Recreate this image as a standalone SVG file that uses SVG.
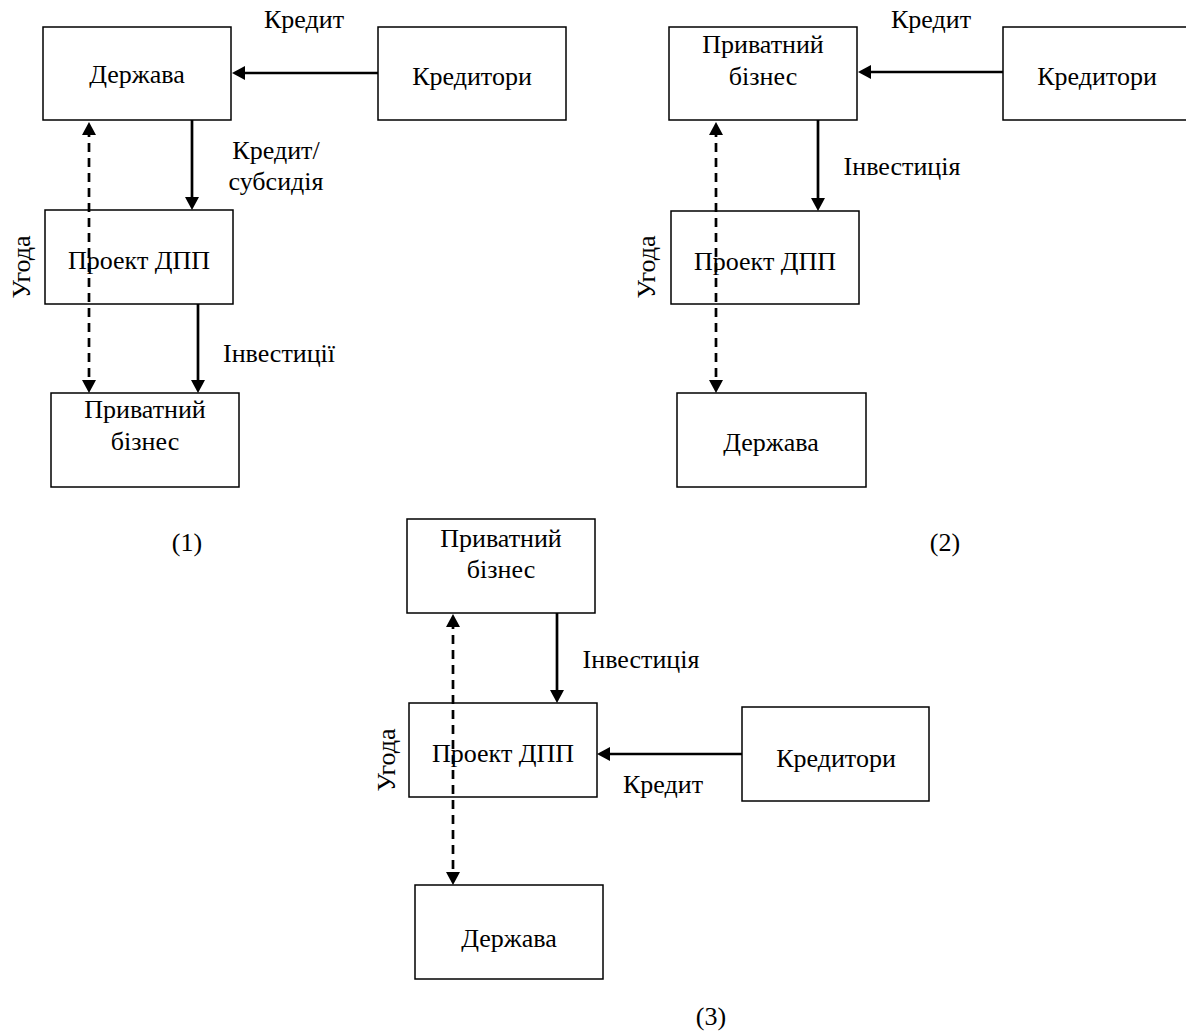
<svg xmlns="http://www.w3.org/2000/svg" width="1186" height="1034" viewBox="0 0 1186 1034">
<style>
.box{fill:#fff;stroke:#000;stroke-width:1.5}
.t{font-family:"Liberation Serif","Times New Roman",serif;font-size:26px;fill:#000;text-anchor:middle}
.ar{stroke:#000;stroke-width:2.7;fill:none}
.da{stroke:#000;stroke-width:2.7;fill:none;stroke-dasharray:9 6}
</style>
<defs>
<marker id="ah" markerUnits="userSpaceOnUse" markerWidth="14" markerHeight="14" refX="7" refY="7" orient="auto-start-reverse" viewBox="0 0 14 14">
<path d="M0,0 L13,7 L0,14 z" fill="#000"/>
</marker>
</defs>
<rect width="1186" height="1034" fill="#fff"/>
<g id="d1-state"><rect class="box" x="43" y="27" width="188" height="93"/><text class="t" x="137" y="83">Держава</text></g>
<g id="d1-cred"><rect class="box" x="378" y="27" width="188" height="93"/><text class="t" x="472" y="85">Кредитори</text></g>
<g id="d1-ppp"><rect class="box" x="45" y="210" width="188" height="94"/><text class="t" x="139" y="269">Проект ДПП</text></g>
<g id="d1-priv"><rect class="box" x="51" y="393" width="188" height="94"/><text class="t" x="145" y="418">Приватний</text><text class="t" x="145" y="450">бізнес</text></g>
<g id="d2-priv"><rect class="box" x="669" y="27" width="188" height="93"/><text class="t" x="763" y="53">Приватний</text><text class="t" x="763" y="85">бізнес</text></g>
<g id="d2-cred"><rect class="box" x="1003" y="27" width="188" height="93"/><text class="t" x="1097" y="85">Кредитори</text></g>
<g id="d2-ppp"><rect class="box" x="671" y="211" width="188" height="93"/><text class="t" x="765" y="270">Проект ДПП</text></g>
<g id="d2-state"><rect class="box" x="677" y="393" width="189" height="94"/><text class="t" x="771" y="451">Держава</text></g>
<g id="d3-priv"><rect class="box" x="407" y="519" width="188" height="94"/><text class="t" x="501" y="547">Приватний</text><text class="t" x="501" y="578">бізнес</text></g>
<g id="d3-ppp"><rect class="box" x="409" y="703" width="188" height="94"/><text class="t" x="503" y="762">Проект ДПП</text></g>
<g id="d3-cred"><rect class="box" x="742" y="707" width="187" height="94"/><text class="t" x="836" y="767">Кредитори</text></g>
<g id="d3-state"><rect class="box" x="415" y="885" width="188" height="94"/><text class="t" x="509" y="947">Держава</text></g>
<g id="connectors">
<line class="ar" x1="378" y1="73" x2="238" y2="73" marker-end="url(#ah)"/>
<line class="ar" x1="192" y1="120" x2="192" y2="204" marker-end="url(#ah)"/>
<line class="ar" x1="198" y1="304" x2="198" y2="387" marker-end="url(#ah)"/>
<line class="da" x1="89" y1="128" x2="89" y2="387" marker-start="url(#ah)" marker-end="url(#ah)"/>
<line class="ar" x1="1003" y1="72" x2="864" y2="72" marker-end="url(#ah)"/>
<line class="ar" x1="818" y1="120" x2="818" y2="205" marker-end="url(#ah)"/>
<line class="da" x1="716" y1="128" x2="716" y2="387" marker-start="url(#ah)" marker-end="url(#ah)"/>
<line class="ar" x1="557" y1="613" x2="557" y2="697" marker-end="url(#ah)"/>
<line class="ar" x1="742" y1="754" x2="603" y2="754" marker-end="url(#ah)"/>
<line class="da" x1="453" y1="620" x2="453" y2="879" marker-start="url(#ah)" marker-end="url(#ah)"/>
</g>
<g id="labels">
<text class="t" x="304" y="28">Кредит</text>
<text class="t" x="276" y="159">Кредит/</text>
<text class="t" x="276" y="190">субсидія</text>
<text class="t" x="279" y="362">Інвестиції</text>
<text class="t" transform="translate(30,267) rotate(-90)">Угода</text>
<text class="t" x="931" y="28">Кредит</text>
<text class="t" x="902" y="175">Інвестиція</text>
<text class="t" transform="translate(655,267) rotate(-90)">Угода</text>
<text class="t" x="641" y="668">Інвестиція</text>
<text class="t" x="663" y="793">Кредит</text>
<text class="t" transform="translate(395,760) rotate(-90)">Угода</text>
<text class="t" x="187" y="551">(1)</text>
<text class="t" x="945" y="551">(2)</text>
<text class="t" x="711" y="1025">(3)</text>
</g>
</svg>
